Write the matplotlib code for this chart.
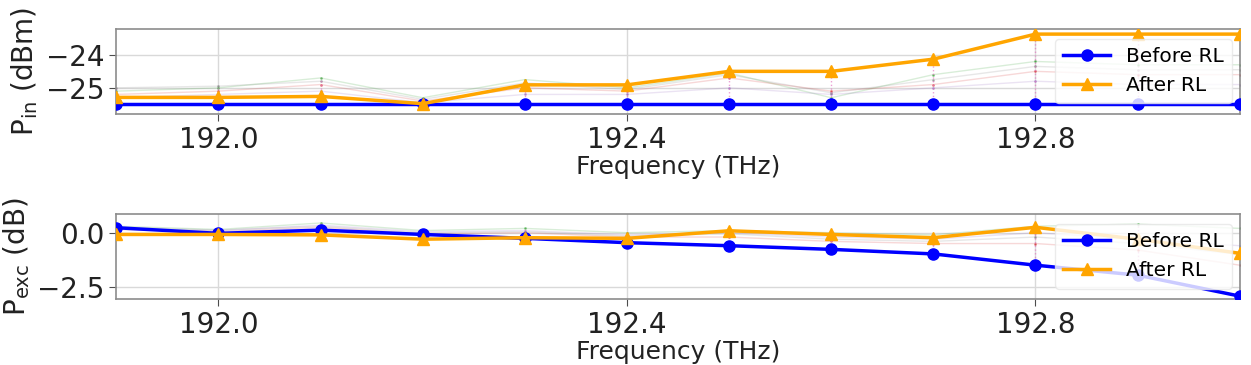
import matplotlib
matplotlib.use("Agg")
import matplotlib.pyplot as plt
import numpy as np

freq = [191.9, 192.0, 192.1, 192.2, 192.3, 192.4, 192.5, 192.6, 192.7, 192.8, 192.9, 193.0]

pin_before = [-25.48] * 12
pin_after = [-25.29, -25.29, -25.26, -25.48, -24.91, -24.91, -24.50, -24.50, -24.13, -23.37, -23.37, -23.37]
pin_mid = [
    [-25.10, -25.00, -24.70, -25.30, -24.75, -25.00, -24.55, -25.30, -24.60, -24.20, -24.30, -24.30],
    [-25.20, -25.10, -24.90, -25.40, -25.00, -25.10, -24.70, -25.10, -24.90, -24.50, -24.60, -24.60],
    [-25.30, -25.20, -25.10, -25.45, -25.20, -25.20, -25.00, -25.20, -25.00, -24.80, -24.90, -24.90],
    [-25.00, -24.95, -24.80, -25.35, -24.85, -25.05, -24.60, -25.15, -24.75, -24.35, -24.45, -24.45],
]

pexc_before = [0.23, -0.03, 0.12, -0.08, -0.26, -0.46, -0.60, -0.77, -0.98, -1.50, -1.96, -2.93]
pexc_after = [-0.08, -0.08, -0.10, -0.30, -0.23, -0.26, 0.09, -0.08, -0.23, 0.25, -0.30, -0.95]
pexc_mid = [
    [0.30, 0.15, 0.45, 0.10, 0.20, 0.00, 0.10, 0.00, -0.10, 0.30, 0.40, 0.20],
    [0.15, 0.05, 0.25, -0.05, 0.00, -0.20, -0.20, -0.40, -0.50, -0.50, -0.80, -1.50],
    [0.20, 0.10, 0.35, 0.05, 0.10, -0.10, 0.00, -0.20, -0.30, 0.00, -0.30, -0.60],
    [0.25, 0.12, 0.30, 0.00, 0.05, -0.15, -0.05, -0.30, -0.40, -0.20, -0.50, -1.00],
]

xticks = [192.0, 192.4, 192.8]
mid_colors = ['tab:green', 'tab:red', 'tab:purple', 'tab:gray']

fig = plt.figure(figsize=(12.51, 3.65), dpi=100)
ax1 = fig.add_axes([0.093, 0.688, 0.898, 0.233])
ax2 = fig.add_axes([0.093, 0.181, 0.898, 0.233])

def style(ax):
    for s in ax.spines.values():
        s.set_color('0.55')
        s.set_linewidth(1.2)
    ax.grid(True, color='0.85', linewidth=1)
    ax.set_axisbelow(True)
    ax.tick_params(labelsize=20, colors='0.3', labelcolor='#222222', length=5)
    ax.set_xticks(xticks)
    ax.set_xticklabels([f"{v:.1f}" for v in xticks])
    ax.set_xlim(191.9, 193.0)
    ax.set_xlabel('Frequency (THz)', fontsize=18, color='#222222', labelpad=1)

for ax, before, after, mids in [(ax1, pin_before, pin_after, pin_mid),
                                 (ax2, pexc_before, pexc_after, pexc_mid)]:
    style(ax)
    for m, c in zip(mids, mid_colors):
        ax.plot(freq, m, color=c, lw=1.0, alpha=0.18, zorder=1)
        ax.plot(freq, m, ls='none', marker='.', ms=2, color=c, alpha=0.5, zorder=1)
    ax.vlines(freq, [min(a, b) for a, b in zip(before, after)],
              [max(max(col), a) for col, a in zip(zip(*mids), after)],
              colors='tab:pink', linestyles=':', lw=1, alpha=0.7, zorder=1)
    ax.plot(freq, before, color='blue', lw=2.5, marker='o', ms=8, label='Before RL', zorder=3)
    ax.plot(freq, after, color='#FFA500', lw=2.5, marker='^', ms=8, label='After RL', zorder=4)
    ax.legend(loc='center right', fontsize=14.5, framealpha=0.8, edgecolor='0.9',
              handlelength=2.3, borderaxespad=0.4)

ax1.set_ylim(-25.79, -23.21)
ax1.set_yticks([-25, -24])
ax1.set_yticklabels(['\u221225', '\u221224'])
ax1.set_ylabel('P$_{\\mathrm{in}}$ (dBm)', fontsize=20, color='#222222')

ax2.set_ylim(-3.06, 0.87)
ax2.set_yticks([-2.5, 0.0])
ax2.set_yticklabels(['\u22122.5', '0.0'])
ax2.set_ylabel('P$_{\\mathrm{exc}}$ (dB)', fontsize=20, color='#222222')

fig.savefig('out.png', dpi=100)
